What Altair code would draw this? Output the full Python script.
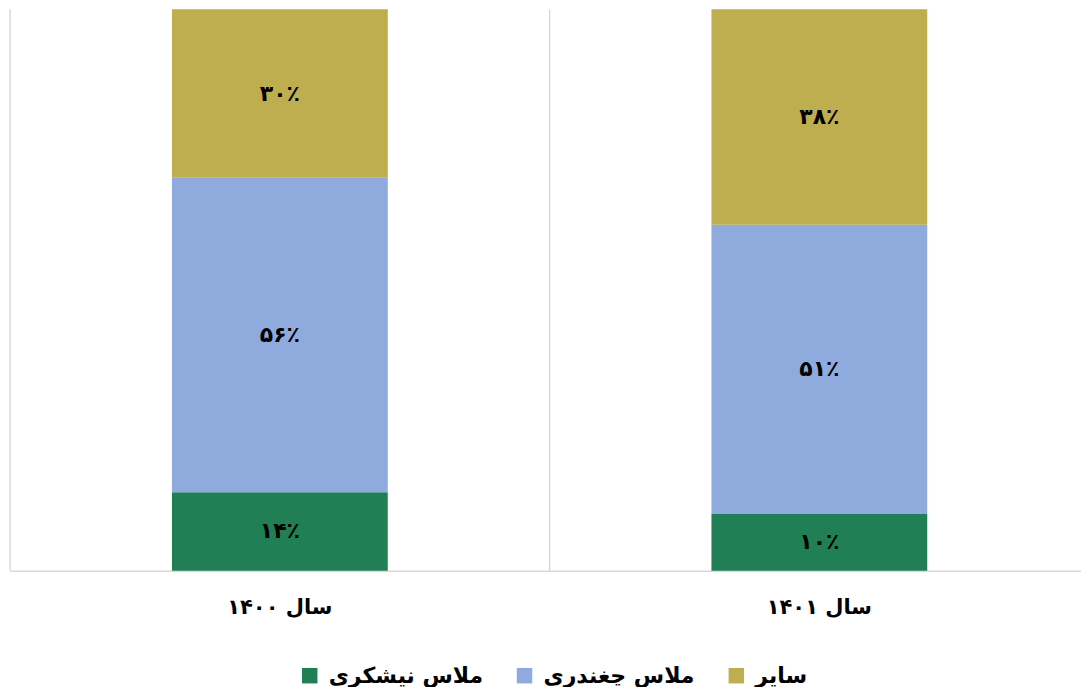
import altair as alt
import pandas as pd

years = ["سال ۱۴۰۰", "سال ۱۴۰۱"]
series = ["ملاس نیشکری", "ملاس چغندری", "سایر"]
colors = ["#217f56", "#8faadc", "#bfae4f"]
vals_1400 = [14, 56, 30]
vals_1401 = [10, 51, 38]

def fa_digits(n):
    return str(n).translate(str.maketrans("0123456789", "۰۱۲۳۴۵۶۷۸۹"))

rows = []
for y, vals in zip(years, [vals_1400, vals_1401]):
    for i, (s, v) in enumerate(zip(series, vals)):
        rows.append({"year": y, "series": s, "value": v, "order": i,
                     "label": fa_digits(v) + "٪"})
df = pd.DataFrame(rows)
sep_df = pd.DataFrame({"year": years})

FONT = "DejaVu Sans"

base = alt.Chart(df).transform_stack(
    stack="value", groupby=["year"], sort=[alt.SortField("order", "ascending")],
    as_=["y0", "y1"], offset="normalize"
).transform_calculate(mid="(datum.y0 + datum.y1) / 2")

xscale = alt.Scale(domain=years, paddingInner=0.6, paddingOuter=0.2926, align=0.513)

# separators at the left boundary of each category step (band start minus half the inner padding)
seps = alt.Chart(sep_df).mark_rule(color="#d9d9d9", strokeWidth=1.5, xOffset=-162).encode(
    x=alt.X("year:N", sort=years, title=None, scale=xscale, bandPosition=0),
)

bars = base.mark_bar().encode(
    x=alt.X("year:N", sort=years, title=None, scale=xscale),
    y=alt.Y("y0:Q", scale=alt.Scale(domain=[0, 1]), axis=None),
    y2="y1:Q",
    color=alt.Color("series:N", sort=series,
                    scale=alt.Scale(domain=series, range=colors),
                    legend=alt.Legend(title=None, orient="none", direction="horizontal",
                                      legendX=289, legendY=656,
                                      symbolType="square", symbolSize=240, symbolStrokeWidth=0,
                                      labelFont=FONT, labelFontWeight="bold", labelFontSize=22,
                                      labelColor="#000000", columnPadding=30, labelOffset=8,
                                      labelLimit=300)),
)

texts = base.mark_text(font=FONT, fontWeight="bold", fontSize=22, color="#000000").encode(
    x=alt.X("year:N", sort=years, title=None, scale=xscale),
    y=alt.Y("mid:Q", scale=alt.Scale(domain=[0, 1]), axis=None),
    text="label:N",
)

chart = alt.layer(seps, bars, texts).properties(
    width=1072, height=562,
    padding={"left": 1, "top": 0, "right": 0, "bottom": 0},
).configure_view(stroke=None).configure_axisX(
    grid=False, domainColor="#d9d9d9", domainWidth=1.5, ticks=False,
    labelAngle=0, labelFont=FONT, labelFontWeight="bold",
    labelFontSize=21, labelColor="#000000", labelPadding=26,
)

chart.save("out.html", embed_options={"renderer": "svg", "actions": False})
